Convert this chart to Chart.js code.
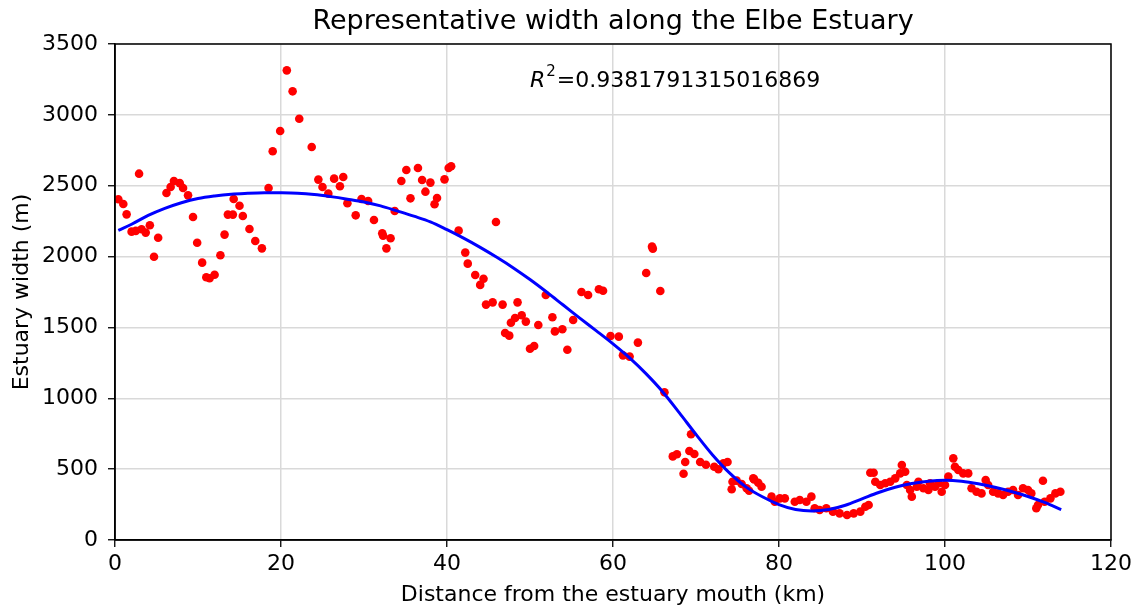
<!DOCTYPE html>
<html>
<head>
<meta charset="utf-8">
<title>Representative width along the Elbe Estuary</title>
<script src="https://cdn.jsdelivr.net/npm/chart.js@4.4.1/dist/chart.umd.min.js"></script>
<style>
    html, body { margin: 0; padding: 0; background: #fff; }
    #wrap { width: 1139px; height: 612px; }
</style>
</head>
<body>
<div id="wrap"><canvas id="graficoAncho" width="1139" height="612"></canvas></div>
<script>
// --- datos ---
const distKm = [
    0.4, 1.0, 1.4, 2.0, 2.5, 2.9, 3.2, 3.7, 4.2, 4.7, 5.2, 6.2, 6.7, 7.1, 7.8, 8.2, 8.8, 9.4, 9.9,
    10.5, 11.0, 11.4, 12.0, 12.7, 13.2, 13.6, 14.2, 14.3, 15.0, 15.4, 16.2, 16.9, 17.7, 18.5, 19.0, 19.9,
    20.7, 21.4, 22.2, 23.7, 24.5, 25.0, 25.7, 26.4, 27.1, 27.5, 28.0, 29.0, 29.7,
    30.5, 31.2, 32.2, 32.3, 32.7, 33.2, 33.7, 34.5, 35.1, 35.6, 36.5, 37.0, 37.4, 38.0, 38.5, 38.8, 39.7,
    40.2, 40.5, 41.4, 42.2, 42.5, 43.4, 44.0, 44.4, 44.7, 45.5, 45.9, 46.7, 47.0, 47.5, 47.7, 48.2, 48.5, 49.0, 49.5,
    50.0, 50.5, 51.0, 51.9, 52.7, 53.0, 53.9, 54.5, 55.2, 56.2, 57.0, 58.3, 58.8, 59.7,
    60.7, 61.2, 62.0, 63.0, 64.0, 64.7, 64.8, 65.7, 66.2, 67.2, 67.7, 68.5, 68.7, 69.2, 69.4, 69.8,
    70.5, 71.2, 72.2, 72.7, 73.3, 73.8, 74.3, 74.4, 74.9, 75.5, 76.1, 76.4, 76.9, 77.0, 77.5, 77.9, 79.1, 79.5,
    80.1, 80.7, 81.9, 82.5, 83.3, 83.9, 84.3, 84.9, 85.7, 86.5, 87.3, 88.2, 89.0, 89.8,
    90.4, 90.8, 91.0, 91.4, 91.6, 92.2, 92.8, 93.4, 94.0, 94.6, 94.8, 95.2, 95.4, 95.8, 96.0, 96.6, 96.8, 97.4, 98.0, 98.2, 98.8, 99.2, 99.6,
    100.0, 100.4, 101.0, 101.2, 101.6, 102.2, 102.8, 103.2, 103.8, 104.4, 104.9, 105.2, 105.8, 106.4, 107.0, 107.6, 108.2, 108.8, 109.4,
    110.0, 110.4, 111.0, 111.2, 111.8, 112.0, 112.7, 113.3, 113.9
];
const widthM = [
    2404, 2371, 2298, 2176, 2181, 2585, 2193, 2169, 2221, 1999, 2133, 2449, 2491, 2533, 2518, 2484, 2432, 2279, 2098,
    1957, 1854, 1847, 1872, 2009, 2155, 2296, 2296, 2406, 2359, 2286, 2195, 2110, 2058, 2484, 2743, 2886,
    3314, 3166, 2973, 2773, 2543, 2491, 2444, 2550, 2496, 2562, 2376, 2291, 2406,
    2392, 2258, 2164, 2147, 2058, 2129, 2322, 2533, 2611, 2411, 2625, 2540, 2458, 2522, 2369, 2413, 2545,
    2625, 2637, 2183, 2028, 1950, 1870, 1800, 1844, 1661, 1677, 2244, 1661, 1461, 1442, 1533, 1567, 1677, 1586, 1541,
    1350, 1369, 1517, 1729, 1572, 1472, 1487, 1343, 1552, 1750, 1729, 1769, 1759, 1440,
    1435, 1303, 1294, 1393, 1884, 2070, 2056, 1757, 1042, 590, 605, 468, 550, 628, 746, 607,
    550, 531, 517, 499, 541, 550, 358, 411, 419, 395, 365, 348, 435, 428, 404, 376, 306, 270,
    294, 294, 270, 282, 270, 306, 224, 212, 224, 200, 188, 176, 188, 200,
    235, 247, 475, 475, 411, 388, 400, 411, 435, 470, 529, 482, 388, 353, 306, 376, 411, 365, 353, 400, 376, 400, 341,
    388, 447, 576, 517, 494, 470, 470, 365, 341, 329, 423, 388, 341, 329, 318, 341, 353, 318, 365,
    353, 329, 224, 247, 418, 270, 294, 329, 341
];
// curva de ajuste
const fitKm = [
    0.4, 2, 4, 6, 8, 10, 12, 14, 16, 18, 20, 22, 24, 26, 28, 30, 32, 34, 36, 38, 40, 42, 44, 46, 48,
    50, 52, 54, 56, 58, 60, 62, 64, 66, 68, 70, 72, 74, 76, 78, 80, 82, 84, 86, 88, 90, 92, 94, 96, 98,
    100, 102, 104, 106, 108, 110, 112, 114
];
const fitWidth = [
    2185, 2228, 2290, 2340, 2380, 2410, 2428, 2440, 2446, 2450, 2450, 2447, 2438, 2423, 2405, 2385, 2358, 2322, 2285, 2245,
    2190, 2130, 2065, 1995, 1920, 1838, 1750, 1658, 1566, 1476, 1384, 1285, 1172, 1045, 897, 745, 600, 475, 375, 305,
    250, 215, 205, 215, 245, 290, 335, 372, 398, 415, 422, 415, 397, 372, 342, 307, 265, 215
];
const xTickVals = [0, 20, 40, 60, 80, 100, 120];
const yTickVals = [0, 500, 1000, 1500, 2000, 2500, 3000, 3500];
const r2Texto = '=0.9381791315016869';
const r2Pos = [50, 3200];

const FUENTE = "'DejaVu Sans', sans-serif";

// marco negro y texto del R^2
const marcoYTexto = {
    id: 'marcoYTexto',
    afterDatasetsDraw(chart) {
        const { ctx, chartArea: a, scales: { x, y } } = chart;
        ctx.save();
        ctx.strokeStyle = '#000';
        ctx.lineWidth = 1.5;
        ctx.strokeRect(a.left, a.top, a.right - a.left, a.bottom - a.top);

        let px = x.getPixelForValue(r2Pos[0]);
        const py = y.getPixelForValue(r2Pos[1]);
        ctx.fillStyle = '#000';
        ctx.textBaseline = 'alphabetic';
        ctx.textAlign = 'left';
        ctx.font = 'italic 22px ' + FUENTE;
        ctx.fillText('R', px, py);
        px += ctx.measureText('R').width + 1;
        ctx.font = '15px ' + FUENTE;
        ctx.fillText('2', px, py - 11);
        px += ctx.measureText('2').width + 1;
        ctx.font = '22px ' + FUENTE;
        ctx.fillText(r2Texto, px, py);
        ctx.restore();
    }
};

const puntos = distKm.map((d, i) => ({ x: d, y: widthM[i] }));
const curva = fitKm.map((d, i) => ({ x: d, y: fitWidth[i] }));

const ctx = document.getElementById('graficoAncho').getContext('2d');
new Chart(ctx, {
    type: 'scatter',
    data: {
        datasets: [
            {
                label: 'ajuste',
                data: curva,
                showLine: true,
                borderColor: '#0000ff',
                borderWidth: 3,
                pointRadius: 0,
                tension: 0.35,
                fill: false,
                order: 0
            },
            {
                label: 'datos',
                data: puntos,
                backgroundColor: '#ff0000',
                borderWidth: 0,
                pointRadius: 4.3,
                order: 1
            }
        ]
    },
    options: {
        responsive: false,
        animation: false,
        devicePixelRatio: 1,
        layout: { padding: { left: 0, right: 28, top: 0, bottom: 0 } },
        plugins: {
            legend: { display: false },
            tooltip: { enabled: false },
            title: {
                display: true,
                fullSize: false,
                text: 'Representative width along the Elbe Estuary',
                color: '#000',
                font: { family: FUENTE, size: 27, weight: 'normal' },
                padding: { top: 6, bottom: 5.6 }
            }
        },
        scales: {
            x: {
                type: 'linear',
                min: 0,
                max: 120,
                afterBuildTicks: s => { s.ticks = xTickVals.map(v => ({ value: v })); },
                afterFit: s => { s.height = 72; },
                ticks: { color: '#000', font: { family: FUENTE, size: 22 }, padding: 4, maxRotation: 0,
                         callback: v => String(v) },
                grid: { color: '#d9d9d9', lineWidth: 1.5, tickColor: '#000', tickLength: 7, tickWidth: 1.3 },
                border: { color: '#000', width: 1.5 },
                title: {
                    display: true,
                    text: 'Distance from the estuary mouth (km)',
                    color: '#000',
                    font: { family: FUENTE, size: 22 },
                    padding: { top: 0, bottom: 4 }
                }
            },
            y: {
                type: 'linear',
                min: 0,
                max: 3500,
                afterBuildTicks: s => { s.ticks = yTickVals.map(v => ({ value: v })); },
                afterFit: s => { s.width = 115; },
                ticks: { color: '#000', font: { family: FUENTE, size: 22 }, padding: 10,
                         callback: v => String(v) },
                grid: { color: '#d9d9d9', lineWidth: 1.5, tickColor: '#000', tickLength: 7, tickWidth: 1.3 },
                border: { color: '#000', width: 1.5 },
                title: {
                    display: true,
                    text: 'Estuary width (m)',
                    color: '#000',
                    font: { family: FUENTE, size: 22 },
                    padding: { top: 9, bottom: 0 }
                }
            }
        }
    },
    plugins: [marcoYTexto]
});
</script>
</body>
</html>
